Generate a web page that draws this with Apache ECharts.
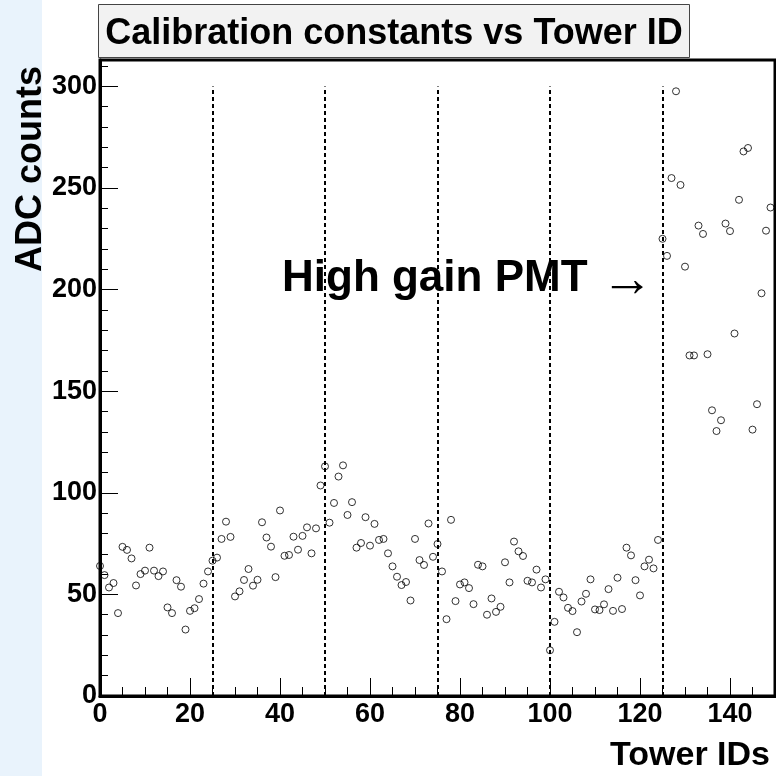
<!DOCTYPE html>
<html><head><meta charset="utf-8">
<script src="https://cdn.jsdelivr.net/npm/echarts@6/dist/echarts.min.js"></script>
<style>html,body{margin:0;padding:0;background:#fff}#c{width:776px;height:776px}</style>
</head><body><div id="c"></div><script>
// ---- data ----
const towerIds = [0,1,2,3,4,5,6,7,8,9,10,11,12,13,14,15,16,17,18,19,20,21,22,23,24,25,26,27,28,29,30,31,32,33,34,35,36,37,38,39,40,41,42,43,44,45,46,47,48,49,50,51,52,53,54,55,56,57,58,59,60,61,62,63,64,65,66,67,68,69,70,71,72,73,74,75,76,77,78,79,80,81,82,83,84,85,86,87,88,89,90,91,92,93,94,95,96,97,98,99,100,101,102,103,104,105,106,107,108,109,110,111,112,113,114,115,116,117,118,119,120,121,122,123,124,125,126,127,128,129,130,131,132,133,134,135,136,137,138,139,140,141,142,143,144,145,146,147,148,149];
const adcCounts = [
 64,59.5,53.4,55.6,40.8,73.4,71.9,67.7,54.4,60,
 61.7,73,61.7,59,61.3,43.6,40.8,57,53.8,32.7,
 41.9,43.2,47.7,55.3,61.3,66.6,68.1,77.3,85.8,78.3,
 49,51.5,57.1,62.5,54.3,57.2,85.5,78,73.5,58.5,
 91.3,69,69.4,78.4,72,78.8,83,70.2,82.5,103.6,
 113,85.3,95,108,113.5,89.1,95.4,73,75.3,88,
 74,84.7,76.8,77.3,70.2,63.8,58.7,54.6,56.1,47,
 77.3,66.9,64.5,84.9,68.5,74.8,61.3,37.8,86.7,46.7,
 54.9,55.9,53.1,45.2,64.6,63.8,40,48,41.4,43.9,
 65.8,55.9,76,71.2,68.9,56.7,55.9,62.2,53.4,57.4,
 22.5,36.5,51.3,48.5,43.4,41.8,31.4,46.5,50.3,57.4,
 42.6,42.3,45.1,52.6,41.9,58.2,42.8,73,69.2,57,
 49.5,63.8,67.1,62.8,76.8,225,216.6,254.9,297.6,251.5,
 211.3,167.6,167.6,231.5,227.4,168.2,140.6,130.4,135.7,232.5,
 228.8,178.4,244.2,268,269.7,131.1,143.6,198.2,229,240.4
];
const boundaryIds = [25, 50, 75, 100, 125];
const boundaryLow = 0;
const boundaryHigh = 300;
const xRange = [0, 150];
const yRange = [0, 313];
const titleText = 'Calibration constants vs Tower ID';
const xTitle = 'Tower IDs';
const yTitle = 'ADC counts';
const noteText = 'High gain PMT';
const noteArrow = '\u2192';

// ---- chart ----
const FONT = '"Liberation Sans", Arial, Helvetica, sans-serif';
const chart = echarts.init(document.getElementById('c'), null, {renderer: 'canvas'});
const labelStyle = {fontFamily: FONT, fontWeight: 'bold', fontSize: 27, color: '#000'};
const option = {
  animation: false,
  backgroundColor: '#fff',
  grid: {left: 100, right: 1, top: 60, bottom: 80, show: true, borderColor: '#000', borderWidth: 3, backgroundColor: '#fff'},
  xAxis: [
    {type: 'value', min: xRange[0], max: xRange[1], interval: 20, position: 'bottom',
     axisLine: {show: true, lineStyle: {color: '#000', width: 3}},
     axisTick: {show: true, inside: true, length: 18, lineStyle: {color: '#000', width: 1}},
     axisLabel: Object.assign({margin: 5, showMaxLabel: false}, labelStyle),
     splitLine: {show: false}},
    {type: 'value', min: xRange[0], max: xRange[1], interval: 5, position: 'bottom',
     axisLine: {show: false},
     axisTick: {show: true, inside: true, length: 9, lineStyle: {color: '#000', width: 1}},
     axisLabel: {show: false}, splitLine: {show: false}}
  ],
  yAxis: [
    {type: 'value', min: yRange[0], max: yRange[1], interval: 50, position: 'left',
     axisLine: {show: true, lineStyle: {color: '#000', width: 3}},
     axisTick: {show: true, inside: true, length: 18, lineStyle: {color: '#000', width: 1}},
     axisLabel: Object.assign({margin: 3, showMaxLabel: false}, labelStyle),
     splitLine: {show: false}},
    {type: 'value', min: yRange[0], max: yRange[1], interval: 10, position: 'left',
     axisLine: {show: false},
     axisTick: {show: true, inside: true, length: 8, lineStyle: {color: '#000', width: 1}},
     axisLabel: {show: false}, splitLine: {show: false}}
  ],
  series: [{
    type: 'scatter', xAxisIndex: 0, yAxisIndex: 0,
    data: towerIds.map((id, i) => [id, adcCounts[i]]),
    symbol: 'circle', symbolSize: 7,
    itemStyle: {color: 'rgba(0,0,0,0)', borderColor: '#000', borderWidth: 1},
    emphasis: {disabled: true},
    markLine: {
      silent: true, symbol: 'none', label: {show: false}, animation: false,
      lineStyle: {color: '#000', type: [4, 3], width: 2},
      data: boundaryIds.map(b => [{coord: [b, boundaryLow]}, {coord: [b, boundaryHigh]}])
    }
  }],
  graphic: [
    {type: 'rect', z: 0, shape: {x: 0, y: 0, width: 42, height: 776}, style: {fill: '#e9f3fc'}},
    {type: 'rect', z: 5, shape: {x: 98.5, y: 4.5, width: 591, height: 53}, style: {fill: '#f2f2f2', stroke: '#444', lineWidth: 1}},
    {type: 'text', z: 6, x: 394, y: 34, style: {text: titleText, fontFamily: FONT, fontWeight: 'bold', fontSize: 36, fill: '#000', align: 'center', verticalAlign: 'middle'}},
    {type: 'text', z: 6, x: 31, y: 66, rotation: Math.PI / 2, style: {text: yTitle, fontFamily: FONT, fontWeight: 'bold', fontSize: 36, fill: '#000', align: 'right', verticalAlign: 'middle'}},
    {type: 'text', z: 6, x: 770, y: 756, style: {text: xTitle, fontFamily: FONT, fontWeight: 'bold', fontSize: 34, fill: '#000', align: 'right', verticalAlign: 'middle'}},
    {type: 'text', z: 6, x: 282, y: 279, style: {text: noteText, fontFamily: FONT, fontWeight: 'bold', fontSize: 44, fill: '#000', align: 'left', verticalAlign: 'middle'}},
    {type: 'text', z: 6, x: 627, y: 282, style: {text: noteArrow, fontFamily: FONT, fontWeight: 'normal', fontSize: 52, fill: '#000', align: 'center', verticalAlign: 'middle'}}
  ]
};
chart.setOption(option);
</script></body></html>
